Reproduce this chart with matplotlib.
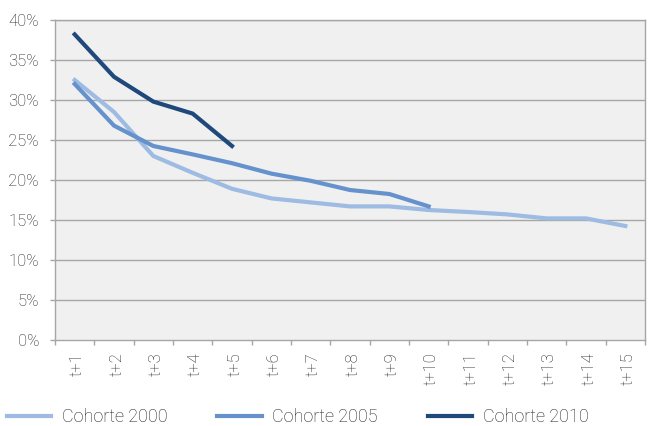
import numpy as np
import matplotlib
matplotlib.use("Agg")
import matplotlib.pyplot as plt
import matplotlib.transforms as mtransforms
from matplotlib.ticker import FixedLocator

plt.rcParams['font.family'] = ['Roboto', 'DejaVu Sans']
plt.rcParams['font.weight'] = 'light'

# data (percent)
periods = ["t+%d" % i for i in range(1, 16)]
cohorte_2000 = [32.5, 28.5, 23.0, 20.9, 18.9, 17.7, 17.2, 16.7, 16.7, 16.25, 16.0, 15.7, 15.2, 15.2, 14.25]
cohorte_2005 = [32.0, 26.8, 24.25, 23.2, 22.1, 20.8, 19.9, 18.75, 18.25, 16.7]
cohorte_2010 = [38.2, 32.9, 29.8, 28.3, 24.25]
y_ticks = [0, 5, 10, 15, 20, 25, 30, 35, 40]

series = [
    ("Cohorte 2000", cohorte_2000, "#9dbbe3"),
    ("Cohorte 2005", cohorte_2005, "#6592cd"),
    ("Cohorte 2010", cohorte_2010, "#1f497d"),
]

fig = plt.figure(figsize=(6.49, 4.26), dpi=100)
ax = fig.add_axes([55 / 649, 1 - 340 / 426, 590 / 649, 320 / 426])
ax.set_facecolor("#f0f0f0")

grid_col = "#a6a6a6"
text_col = "#222222"
for y in y_ticks[1:]:
    ax.axhline(y, color=grid_col, lw=1.0, zorder=1)

x = np.arange(len(periods))
handles = []
for name, vals, col in series:
    h, = ax.plot(x[:len(vals)], vals, color=col, lw=3.0, label=name,
                 solid_joinstyle="miter", zorder=3)
    handles.append(h)

ax.set_xlim(-0.5, len(periods) - 0.5)
ax.set_ylim(0, 40)
ax.set_yticks(y_ticks)
ax.set_yticklabels(["%d%%" % v for v in y_ticks])
ax.set_xticks(x)
ax.set_xticklabels(periods, rotation=90)
ax.xaxis.set_minor_locator(FixedLocator(np.arange(-0.5, len(periods), 1.0)))

ax.tick_params(axis="x", which="major", length=0, pad=9, labelsize=12, labelcolor=text_col)
ax.tick_params(axis="x", which="minor", length=3.5, color=grid_col, width=1)
ax.tick_params(axis="y", length=3.5, color=grid_col, width=1, pad=8, labelsize=12, labelcolor=text_col)

# nudge rotated labels so the glyphs sit centred on the category
shift = mtransforms.ScaledTranslation(3 / 100, 0, fig.dpi_scale_trans)
for lbl in ax.get_xticklabels():
    lbl.set_transform(lbl.get_transform() + shift)

for s in ax.spines.values():
    s.set_color(grid_col)
    s.set_linewidth(1.0)

fig.legend(handles=handles, loc="center left", bbox_to_anchor=(7 / 649, 1 - 417 / 426), ncol=3,
           frameon=False, fontsize=13, handlelength=2.45, handletextpad=0.6,
           columnspacing=2.75, borderpad=0, borderaxespad=0, labelcolor=text_col)

fig.savefig("out.png", dpi=100)
